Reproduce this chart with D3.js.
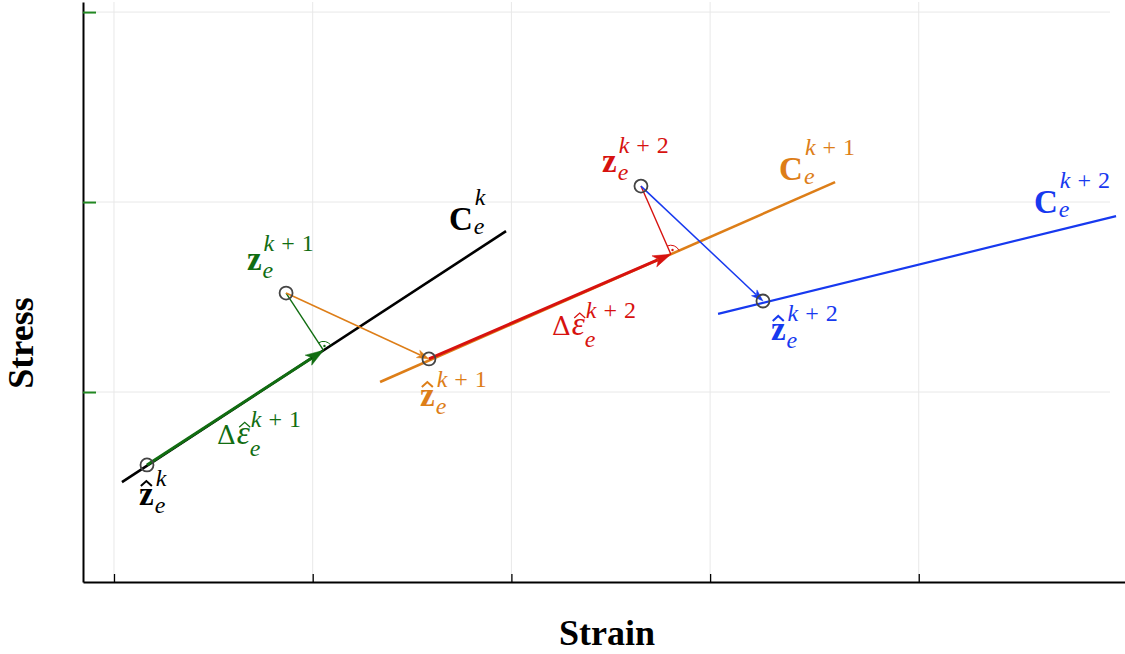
<!DOCTYPE html>
<html>
<head>
<meta charset="utf-8">
<script src="https://cdn.jsdelivr.net/npm/d3@7"></script>
<style>
  body { margin: 0; background: #fff; }
  svg { display: block; }
</style>
</head>
<body>
<div id="chart"></div>
<script>
// tick positions (tick labels are hidden in the original figure)
const xTicks = [0, 1, 2, 3, 4.05]
const yTicks = [1, 2, 3]

// state points (strain, stress)
const zHatK = [0.166, 0.616]
const zK1 = [0.866, 1.521]
const zHatK1 = [1.585, 1.174]
const zK2 = [2.652, 2.084]
const zHatK2 = [3.266, 1.479]

// tangent lines C_e
const lineCk = [[0.040, 0.526], [1.973, 1.847]]
const lineCk1 = [[1.339, 1.053], [3.629, 2.105]]
const lineCk2 = [[3.040, 1.411], [5.043, 1.926]]

const colors = {
    black: "#000000",
    green: "#116d11",
    orange: "#dd7e18",
    red: "#d7120f",
    blue: "#1739ef"
}

// labels: anchor (strain, stress), base symbol, superscript, color
const labels = [
    {x: 0.126, y: 0.405, base: "zhat", sup: "k", color: colors.black},
    {x: 1.686, y: 1.853, base: "C", sup: "k", color: colors.black},
    {x: 0.669, y: 1.642, base: "z", sup: "k + 1", color: colors.green},
    {x: 0.518, y: 0.725, base: "deps", sup: "k + 1", color: colors.green},
    {x: 1.540, y: 0.926, base: "zhat", sup: "k + 1", color: colors.orange},
    {x: 2.204, y: 1.300, base: "deps", sup: "k + 2", color: colors.red},
    {x: 2.456, y: 2.158, base: "z", sup: "k + 2", color: colors.red},
    {x: 3.347, y: 2.116, base: "C", sup: "k + 1", color: colors.orange},
    {x: 3.306, y: 1.274, base: "zhat", sup: "k + 2", color: colors.blue},
    {x: 4.630, y: 1.942, base: "C", sup: "k + 2", color: colors.blue}
]

const width = 1125, height = 654
const margin = {top: 2, right: 0, bottom: 72, left: 83}
const gridRight = 1110

const svg = d3.select("#chart").append("svg")
    .attr("width", width)
    .attr("height", height)

const x = d3.scaleLinear().domain([-0.156, 5.088]).range([margin.left, width - margin.right])
const y = d3.scaleLinear().domain([0, 3.053]).range([height - margin.bottom, margin.top])

const font = "Liberation Serif, Times New Roman, serif"

// grid
svg.append("g").selectAll("line")
    .data(xTicks)
    .join("line")
    .attr("x1", d => x(d)).attr("x2", d => x(d))
    .attr("y1", y.range()[1]).attr("y2", y.range()[0])
    .style("stroke", "#e8e8e8").style("stroke-width", 1)
svg.append("g").selectAll("line")
    .data(yTicks)
    .join("line")
    .attr("x1", margin.left).attr("x2", gridRight)
    .attr("y1", d => y(d)).attr("y2", d => y(d))
    .style("stroke", "#e8e8e8").style("stroke-width", 1)

// axes
const xAxis = svg.append("g")
    .attr("transform", "translate(0," + y(0) + ")")
    .call(d3.axisBottom(x).tickValues(xTicks).tickSize(-8).tickSizeOuter(0).tickFormat(""))
xAxis.select(".domain").style("stroke", "#000").style("stroke-width", 2)
xAxis.selectAll(".tick line").style("stroke", "#000").style("stroke-width", 1.3)

const yAxis = svg.append("g")
    .attr("transform", "translate(" + margin.left + ",0)")
    .call(d3.axisLeft(y).tickValues(yTicks).tickSize(-13).tickSizeOuter(0).tickFormat(""))
yAxis.select(".domain").style("stroke", "#000").style("stroke-width", 2)
yAxis.selectAll(".tick line").style("stroke", "#228822").style("stroke-width", 2)

// axis titles
svg.append("text")
    .attr("x", 607)
    .attr("y", 645)
    .style("text-anchor", "middle")
    .style("font-family", font)
    .style("font-weight", "bold")
    .style("font-size", "36px")
    .text("Strain")
svg.append("text")
    .attr("transform", "translate(33,343) rotate(-90)")
    .style("text-anchor", "middle")
    .style("font-family", font)
    .style("font-weight", "bold")
    .style("font-size", "36px")
    .text("Stress")

// helpers in pixel space
const px = p => [x(p[0]), y(p[1])]
function foot(p, a, b) {
    const dx = b[0] - a[0], dy = b[1] - a[1]
    const t = ((p[0] - a[0]) * dx + (p[1] - a[1]) * dy) / (dx * dx + dy * dy)
    return [a[0] + t * dx, a[1] + t * dy]
}
function unit(a, b) {
    const dx = b[0] - a[0], dy = b[1] - a[1], l = Math.hypot(dx, dy)
    return [dx / l, dy / l]
}

const plt = svg.append("g")

function drawLine(pts, color, w) {
    plt.append("path")
        .attr("d", d3.line()(pts))
        .style("fill", "none")
        .style("stroke", color)
        .style("stroke-width", w)
}

function drawArrow(from, to, color, w, headLen, headW) {
    const u = unit(from, to)
    const back = [to[0] - u[0] * headLen * 0.8, to[1] - u[1] * headLen * 0.8]
    drawLine([from, back], color, w)
    const base = [to[0] - u[0] * headLen, to[1] - u[1] * headLen]
    const n = [-u[1], u[0]]
    const head = [
        to,
        [base[0] + n[0] * headW / 2, base[1] + n[1] * headW / 2],
        [to[0] - u[0] * headLen * 0.75, to[1] - u[1] * headLen * 0.75],
        [base[0] - n[0] * headW / 2, base[1] - n[1] * headW / 2]
    ]
    plt.append("path")
        .attr("d", d3.line()(head) + "Z")
        .style("fill", color)
        .style("stroke", color)
        .style("stroke-width", 0.5)
}

// right angle mark: arc between line direction and perpendicular, with a dot
function rightAngle(f, along, toward, color) {
    const r = 9
    const u = unit(f, along), v = unit(f, toward)
    const p1 = [f[0] + u[0] * r, f[1] + u[1] * r]
    const p2 = [f[0] + v[0] * r, f[1] + v[1] * r]
    const sweep = (u[0] * v[1] - u[1] * v[0]) > 0 ? 1 : 0
    plt.append("path")
        .attr("d", `M${p1[0]},${p1[1]} A${r},${r} 0 0 ${sweep} ${p2[0]},${p2[1]}`)
        .style("fill", "none")
        .style("stroke", color)
        .style("stroke-width", 1)
    const b = unit([0, 0], [u[0] + v[0], u[1] + v[1]])
    plt.append("circle")
        .attr("cx", f[0] + b[0] * r * 0.5)
        .attr("cy", f[1] + b[1] * r * 0.5)
        .attr("r", 1.2)
        .style("fill", color)
}

const ck = lineCk.map(px), ck1 = lineCk1.map(px), ck2 = lineCk2.map(px)
const pZHatK = px(zHatK), pZK1 = px(zK1), pZHatK1 = px(zHatK1), pZK2 = px(zK2), pZHatK2 = px(zHatK2)
const foot1 = foot(pZK1, ck[0], ck[1])
const foot2 = foot(pZK2, ck1[0], ck1[1])

// tangent lines
drawLine(ck, colors.black, 2.6)
drawLine(ck1, colors.orange, 2.6)
drawLine(ck2, colors.blue, 2.2)

// perpendiculars
drawLine([pZK1, foot1], colors.green, 1.4)
drawLine([pZK2, foot2], colors.red, 1.4)
rightAngle(foot1, ck[1], pZK1, colors.green)
rightAngle(foot2, ck1[1], pZK2, colors.red)

// strain increments
drawArrow(pZHatK, foot1, colors.green, 3, 18, 12)
drawArrow(pZHatK1, foot2, colors.red, 3, 18, 12)

// return mappings
drawArrow(pZK1, pZHatK1, colors.orange, 1.5, 12, 8)
drawArrow(pZK2, pZHatK2, colors.blue, 1.5, 12, 8)

// state markers
plt.selectAll("circle.state")
    .data([zHatK, zK1, zHatK1, zK2, zHatK2])
    .join("circle")
    .attr("class", "state")
    .attr("cx", d => x(d[0]))
    .attr("cy", d => y(d[1]))
    .attr("r", 6.5)
    .style("fill", "none")
    .style("stroke", "#444")
    .style("stroke-width", 1.8)

// math labels
const baseSize = 33, scriptSize = 24
const scriptShift = {C: [-25, 4], z: [-19, 8], zhat: [-19, 8], deps: [-17, 12]}

function hat(cx, top, color, w) {
    plt.append("path")
        .attr("d", d3.line()([[cx - 5.5, top], [cx, top - 5], [cx + 5.5, top]]))
        .style("fill", "none")
        .style("stroke", color)
        .style("stroke-width", w)
}

labels.forEach(d => {
    const lx = x(d.x), ly = y(d.y)
    const t = plt.append("text")
        .attr("x", lx).attr("y", ly)
        .style("fill", d.color)
        .style("font-family", font)
        .style("font-size", baseSize + "px")
    if (d.base === "deps") {
        t.append("tspan").style("font-family", "DejaVu Serif").style("font-size", "26px").text("\u0394")
        t.append("tspan").attr("dx", 1).style("font-style", "italic").text("\u03B5")
        const e = t.node().getExtentOfChar(1)
        hat(e.x + e.width / 2 + 1.5, ly - 17, d.color, 1.3)
    } else {
        t.append("tspan")
            .style("font-weight", "bold")
            .text(d.base === "C" ? "C" : "z")
        if (d.base === "zhat") {
            const e = t.node().getExtentOfChar(0)
            hat(e.x + e.width / 2, ly - 19, d.color, 2)
        }
    }
    const w = t.node().getComputedTextLength()
    const [supDy, subDy] = scriptShift[d.base]
    plt.append("text")
        .attr("x", lx + w + 1).attr("y", ly + subDy)
        .style("fill", d.color)
        .style("font-family", font)
        .style("font-style", "italic")
        .style("font-size", scriptSize + "px")
        .text("e")
    const parts = d.sup.split(" ")
    const s = plt.append("text")
        .attr("x", lx + w + 2).attr("y", ly + supDy)
        .style("fill", d.color)
        .style("font-family", font)
        .style("font-size", scriptSize + "px")
    s.append("tspan").style("font-style", "italic").text(parts[0])
    parts.slice(1).forEach(p => s.append("tspan").attr("dx", 7).text(p))
})
</script>
</body>
</html>
